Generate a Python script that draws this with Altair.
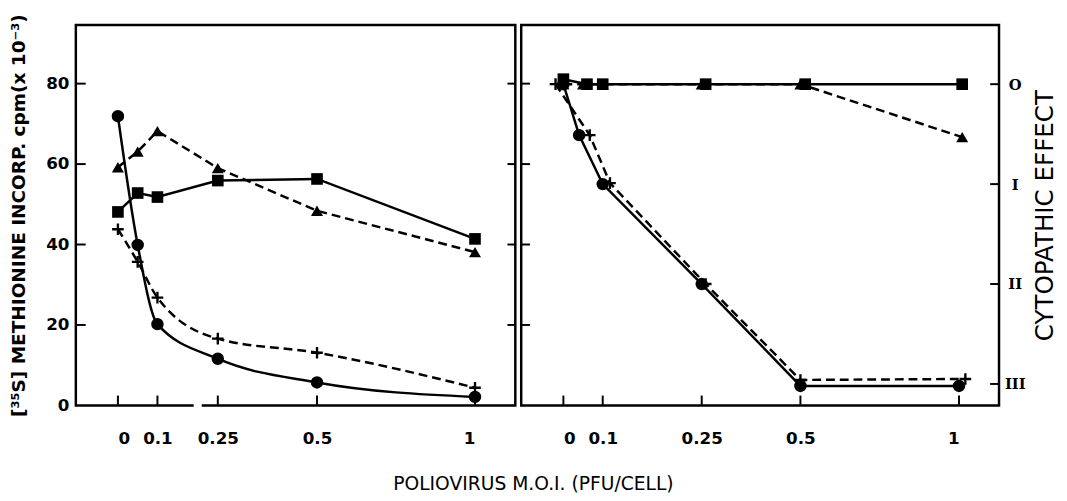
import altair as alt
import pandas as pd

# ---------------- data ----------------
# Left panel: [35S] methionine incorporation (cpm x 10^-3)
moi_left = [0, 0.05, 0.1, 0.25, 0.5, 1]
cpm_circle = [71.9, 39.9, 20.2, 11.6, 5.7, 2.1]
cpm_square = [48.1, 52.8, 51.8, 55.9, 56.3, 41.4]
cpm_triangle = [59.2, 63.1, 68.2, 59.0, 48.4, 38.1]
cpm_plus = [43.8, 35.7, 26.8, 16.6, 13.1, 4.4]

# Right panel: cytopathic effect (0 .. III)
moi_r_circle = [0, 0.04, 0.1, 0.25, 0.5, 1.0]
cpe_circle = [0, 0.51, 1.0, 2.0, 3.02, 3.02]
moi_r_plus = [-0.02, 0.067, 0.111, 0.26, 0.5, 1.02]
cpe_plus = [0, 0.51, 0.99, 2.0, 2.96, 2.95]
moi_r_square = [0, 0.06, 0.1, 0.26, 0.515, 1.01]
cpe_square = [-0.05, 0, 0, 0, 0, 0]
moi_r_triangle = [0, 0.05, 0.1, 0.25, 0.5, 1.01]
cpe_triangle = [0, 0, 0, 0, 0, 0.53]

# axis ticks / labels
moi_ticks = [0, 0.1, 0.25, 0.5, 1]
cpm_label_values = [0, 20, 40, 60, 80]
cpm_tick_values = [20, 40, 60, 80]
cpe_tick_values = [0, 1, 2, 3]
cpe_labels = ["O", "I", "II", "III"]
axis_break = [0.19, 0.21]

# ---------------- layout ----------------
W1, W2, H = 447, 486, 387
BOLD = "DejaVu Sans"

xs_left = alt.Scale(domain=moi_ticks, range=[42.8, 83, 144.4, 245.3, 406], nice=False, zero=False)
xs_right = alt.Scale(domain=moi_ticks, range=[42.9, 82.9, 183.6, 284, 445.3], nice=False, zero=False)
ys_cpm = alt.Scale(domain=[0, 94.6], nice=False, zero=False)
ys_cpe = alt.Scale(domain=[-0.593, 3.2145], reverse=True, nice=False, zero=False)

x_axis = alt.Axis(values=moi_ticks, labelExpr="'' + datum.value", ticks=False, domain=False, grid=False,
                  labelFont=BOLD, labelFontWeight="bold", labelFontSize=17, labelColor="black",
                  labelPadding=26, title=None)
y_axis_left = alt.Axis(values=cpm_label_values, format="d", ticks=False, domain=False, grid=False,
                       labelFont=BOLD, labelFontWeight="bold", labelFontSize=17, labelColor="black",
                       labelPadding=7,
                       title="[³⁵S] METHIONINE INCORP. cpm(x 10⁻³)",
                       titleFont=BOLD, titleFontWeight="bold", titleFontSize=18.8, titleColor="black",
                       titlePadding=18)
label_expr = "[" + ",".join("'" + s + "'" for s in cpe_labels) + "][datum.value]"
y_axis_right = alt.Axis(orient="right", values=cpe_tick_values, labelExpr=label_expr,
                        ticks=False, domain=False, grid=False,
                        labelFont="DejaVu Serif", labelFontWeight="bold", labelFontSize=15,
                        labelColor="black", labelAlign="center", labelPadding=16,
                        title="CYTOPATHIC    EFFECT", titleAngle=270,
                        titleFont="DejaVu Sans", titleFontWeight="normal", titleFontSize=25,
                        titleColor="black", titlePadding=33)


def df(x, y):
    return pd.DataFrame({"moi": x, "val": y})


def panel_layers(xs, ys, yaxis, series):
    X = alt.X("moi:Q", scale=xs, axis=x_axis)
    Y = alt.Y("val:Q", scale=ys, axis=yaxis)
    layers = []
    for data, interp, dash, shape in series:
        line_kw = dict(color="black", strokeWidth=2.5, interpolate=interp)
        if dash:
            line_kw["strokeDash"] = [9, 5]
        layers.append(alt.Chart(data).mark_line(**line_kw).encode(x=X, y=Y))
    for data, interp, dash, shape in series:
        if shape == "plus":
            pt = alt.Chart(data).mark_point(shape="M-1,0H1M0,-1V1", filled=False, size=140,
                                            stroke="black", strokeWidth=2.4, opacity=1)
        else:
            size = {"circle": 160, "square": 140, "triangle-up": 150}[shape]
            pt = alt.Chart(data).mark_point(shape=shape, filled=True, size=size,
                                            color="black", opacity=1)
        layers.append(pt.encode(x=X, y=Y))
    # inward bottom ticks
    layers.append(alt.Chart(pd.DataFrame({"moi": moi_ticks})).mark_rule(color="black", strokeWidth=2)
                  .encode(x=X, y=alt.value(H), y2=alt.value(H - 10)))
    return layers, X, Y


# ---------------- left panel ----------------
left_series = [
    (df(moi_left, cpm_circle), "monotone", False, "circle"),
    (df(moi_left, cpm_square), "linear", False, "square"),
    (df(moi_left, cpm_triangle), "linear", True, "triangle-up"),
    (df(moi_left, cpm_plus), "monotone", True, "plus"),
]
l_layers, XL, YL = panel_layers(xs_left, ys_cpm, y_axis_left, left_series)
cpm_ticks_df = pd.DataFrame({"val": cpm_tick_values})
l_layers.append(alt.Chart(cpm_ticks_df).mark_rule(color="black", strokeWidth=2)
                .encode(y=YL, x=alt.value(0), x2=alt.value(10)))
l_layers.append(alt.Chart(cpm_ticks_df).mark_rule(color="black", strokeWidth=2)
                .encode(y=YL, x=alt.value(W1 - 8), x2=alt.value(W1)))
l_layers.append(alt.Chart(pd.DataFrame({"moi": [axis_break[0]], "moi2": [axis_break[1]]}))
                .mark_rule(color="white", strokeWidth=5)
                .encode(x=XL, x2="moi2:Q", y=alt.value(H + 0.5)))
left = alt.layer(*l_layers).properties(width=W1, height=H)

# ---------------- right panel ----------------
right_series = [
    (df(moi_r_circle, cpe_circle), "linear", False, "circle"),
    (df(moi_r_square, cpe_square), "linear", False, "square"),
    (df(moi_r_triangle, cpe_triangle), "linear", True, "triangle-up"),
    (df(moi_r_plus, cpe_plus), "linear", True, "plus"),
]
r_layers, XR, YR = panel_layers(xs_right, ys_cpe, y_axis_right, right_series)
r_layers.append(alt.Chart(pd.DataFrame({"val": cpe_tick_values})).mark_rule(color="black", strokeWidth=2)
                .encode(y=YR, x=alt.value(W2 - 9), x2=alt.value(W2)))
cpe_part = alt.layer(*r_layers)
cpm_part = alt.Chart(cpm_ticks_df).mark_rule(color="black", strokeWidth=2).encode(
    y=alt.Y("val:Q", scale=ys_cpm, axis=None), x=alt.value(0), x2=alt.value(9))
right = alt.layer(cpe_part, cpm_part).resolve_scale(y="independent").properties(width=W2, height=H)

chart = alt.hconcat(left, right, spacing=0).properties(
    title=alt.TitleParams("POLIOVIRUS M.O.I. (PFU/CELL)", orient="bottom", anchor="middle",
                          font="DejaVu Sans", fontSize=19, fontWeight="normal", color="black",
                          offset=28),
    padding={"left": 0, "top": 0, "right": 0, "bottom": 0},
).configure(background="white").configure_view(stroke="black", strokeWidth=2.5)

chart.save("out.html", embed_options={"renderer": "svg", "actions": False})
